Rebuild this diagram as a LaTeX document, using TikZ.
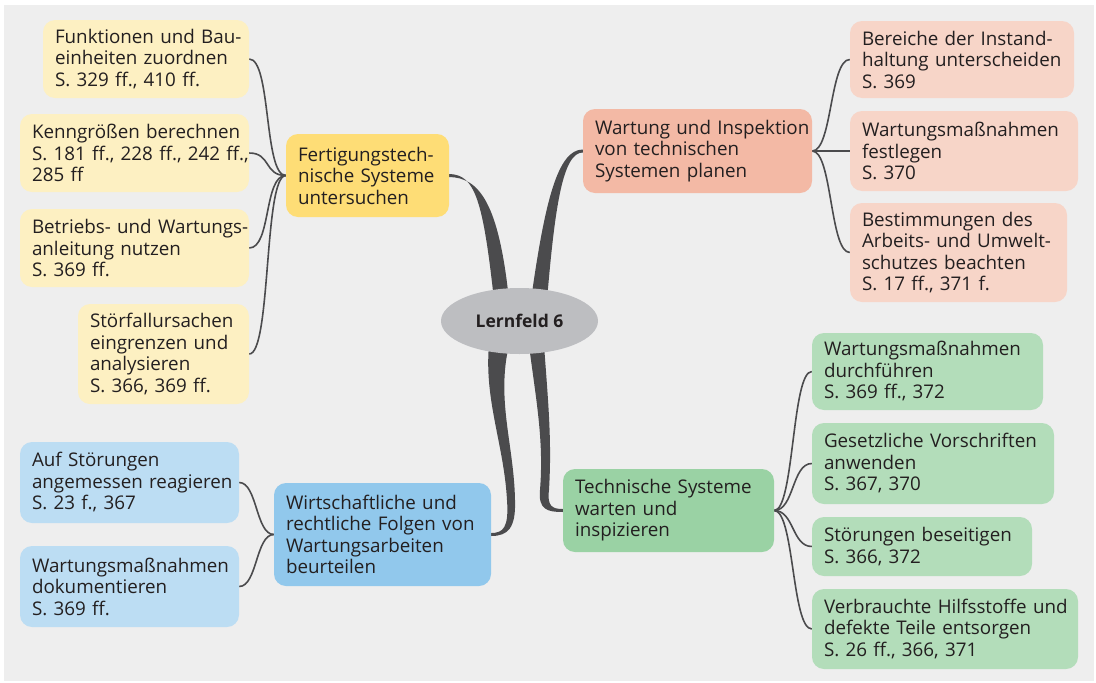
\documentclass[tikz,border=0pt]{standalone}
\usepackage{fontspec}
\setmainfont{Open Sans}
\usetikzlibrary{shapes.geometric,calc}
\definecolor{bgc}{HTML}{EEEEEE}
\definecolor{txt}{HTML}{231F20}
\definecolor{lnc}{HTML}{4B4B4D}
\definecolor{ell}{HTML}{BDBEC1}
\definecolor{ylm}{HTML}{FEDD76}
\definecolor{ylc}{HTML}{FDF0C2}
\definecolor{sam}{HTML}{F3B9A5}
\definecolor{sac}{HTML}{F7D5C8}
\definecolor{blm}{HTML}{91C8EC}
\definecolor{blc}{HTML}{BCDDF3}
\definecolor{grm}{HTML}{9AD2A4}
\definecolor{grc}{HTML}{B3DDBA}
\newcommand\boxfont{\fontsize{18.8}{21.5}\selectfont}
\pgfdeclarelayer{back}
\pgfdeclarelayer{mid}
\pgfsetlayers{back,mid,main}
\begin{document}
\begin{tikzpicture}[x=1pt,y=-1pt,
  bx/.style={rounded corners=12pt, align=left, inner xsep=12pt, inner ysep=0pt, text=txt, font=\boxfont},
  sz/.style 2 args={text width=#1, minimum height=#2},
  con/.style={draw=lnc, line width=1.6pt},
  br/.style={fill=lnc, draw=none}]
\useasboundingbox (0,0) rectangle (1096,683);
\begin{pgfonlayer}{back}
\fill[white] (0,0) rectangle (1096,683);
\fill[bgc] (4,5) rectangle (1094,681);
\end{pgfonlayer}

% centre
\node[ellipse, fill=ell, minimum width=157pt, minimum height=66pt, inner sep=0pt, text=txt,
      font=\fontsize{17.5}{20}\selectfont\bfseries] (C) at (519.5,321) {Lernfeld 6};

% main nodes
\node[bx, fill=ylm, sz={139pt}{83pt}] (YM) at (367.5,175.5)
  {\mbox{Fertigungstech-}\\\mbox{nische Systeme}\\\mbox{untersuchen}};
\node[bx, fill=sam, sz={205pt}{84pt}] (SM) at (697.5,151)
  {\mbox{Wartung und Inspektion}\\\mbox{von technischen}\\\mbox{Systemen planen}};
\node[bx, fill=blm, sz={193pt}{103pt}] (BM) at (382.5,534.5)
  {\mbox{Wirtschaftliche und}\\\mbox{rechtliche Folgen von}\\\mbox{Wartungsarbeiten}\\\mbox{beurteilen}};
\node[bx, fill=grm, sz={187pt}{83pt}] (GM) at (668.5,510.5)
  {\mbox{Technische Systeme}\\\mbox{warten und}\\\mbox{inspizieren}};

% yellow children
\node[bx, fill=ylc, sz={182pt}{78pt}] (Y1) at (146,59)
  {\mbox{Funktionen und Bau-}\\\mbox{einheiten zuordnen}\\\mbox{S. 329 ff., 410 ff.}};
\node[bx, fill=ylc, sz={205pt}{78pt}] (Y2) at (134.5,153)
  {\mbox{Kenngrößen berechnen}\\\mbox{S. 181 ff., 228 ff., 242 ff.,}\\\mbox{285 ff}};
\node[bx, fill=ylc, sz={205pt}{78pt}] (Y3) at (134.5,248)
  {\mbox{Betriebs- und Wartungs-}\\\mbox{anleitung nutzen}\\\mbox{S. 369 ff.}};
\node[bx, fill=ylc, sz={147pt}{100pt}] (Y4) at (163.5,354)
  {\mbox{Störfallursachen}\\\mbox{eingrenzen und}\\\mbox{analysieren}\\\mbox{S. 366, 369 ff.}};

% salmon children
\node[bx, fill=sac, sz={200pt}{77pt}] (S1) at (962,59.5)
  {\mbox{Bereiche der Instand-}\\\mbox{haltung unterscheiden}\\\mbox{S. 369}};
\node[bx, fill=sac, sz={204pt}{80pt}] (S2) at (964,151)
  {\mbox{Wartungsmaßnahmen}\\\mbox{festlegen}\\\mbox{S. 370}};
\node[bx, fill=sac, sz={193pt}{99pt}] (S3) at (958.5,252.5)
  {\mbox{Bestimmungen des}\\\mbox{Arbeits- und Umwelt-}\\\mbox{schutzes beachten}\\\mbox{S. 17 ff., 371 f.}};

% blue children
\node[bx, fill=blc, sz={195pt}{81pt}] (B1) at (129.5,482.5)
  {\mbox{Auf Störungen}\\\mbox{angemessen reagieren}\\\mbox{S. 23 f., 367}};
\node[bx, fill=blc, sz={195pt}{81pt}] (B2) at (129.5,586.5)
  {\mbox{Wartungsmaßnahmen}\\\mbox{dokumentieren}\\\mbox{S. 369 ff.}};

% green children
\node[bx, fill=grc, sz={207pt}{77pt}] (G1) at (927.5,371.5)
  {\mbox{Wartungsmaßnahmen}\\\mbox{durchführen}\\\mbox{S. 369 ff., 372}};
\node[bx, fill=grc, sz={218pt}{81pt}] (G2) at (933,463.5)
  {\mbox{Gesetzliche Vorschriften}\\\mbox{anwenden}\\\mbox{S. 367, 370}};
\node[bx, fill=grc, sz={196pt}{59pt}] (G3) at (922,546.5)
  {\mbox{Störungen beseitigen}\\\mbox{S. 366, 372}};
\node[bx, fill=grc, sz={242pt}{80pt}] (G4) at (945,629)
  {\mbox{Verbrauchte Hilfsstoffe und}\\\mbox{defekte Teile entsorgen}\\\mbox{S. 26 ff., 366, 371}};

\begin{pgfonlayer}{mid}
% thick tapered branches from the centre
\fill[br] ([yshift=1.5pt]YM.east) .. controls (475,174.5) and (483,200) .. (494,300)
  -- (509,300) .. controls (499,205) and (480,177.5) .. ([yshift=-1.5pt]YM.east) -- cycle;
\fill[br] ([yshift=1.5pt]SM.west) .. controls (558,149.5) and (545,200) .. (531,300)
  -- (547,300) .. controls (555,205) and (563,152.5) .. ([yshift=-1.5pt]SM.west) -- cycle;
\fill[br] (489,345) .. controls (484,400) and (504,445) .. (507,500)
  .. controls (509,528) and (503,533) .. ([yshift=1.5pt]BM.east)
  -- ([yshift=-1.5pt]BM.east) .. controls (508,536) and (516,528) .. (515,500)
  .. controls (514,445) and (496,400) .. (509,345) -- cycle;
\fill[br] (529,345) .. controls (536,400) and (544,440) .. (540,490)
  .. controls (538,510) and (548,512) .. ([yshift=-1.5pt]GM.west)
  -- ([yshift=1.5pt]GM.west) .. controls (552,509) and (547,506) .. (549,490)
  .. controls (552,440) and (548,400) .. (544,345) -- cycle;
% thin connectors
\foreach \c in {Y1,Y2,Y3,Y4}
  \draw[con] (\c.east) .. controls +(22,0) and +(-22,0) .. (YM.west);
\foreach \c in {S1,S2,S3}
  \draw[con] (SM.east) .. controls +(20,0) and +(-20,0) .. (\c.west);
\foreach \c in {B1,B2}
  \draw[con] (\c.east) .. controls +(18,0) and +(-18,0) .. (BM.west);
\foreach \c in {G1,G2,G3,G4}
  \draw[con] (GM.east) .. controls +(20,0) and +(-20,0) .. (\c.west);
\end{pgfonlayer}
\end{tikzpicture}
\end{document}
